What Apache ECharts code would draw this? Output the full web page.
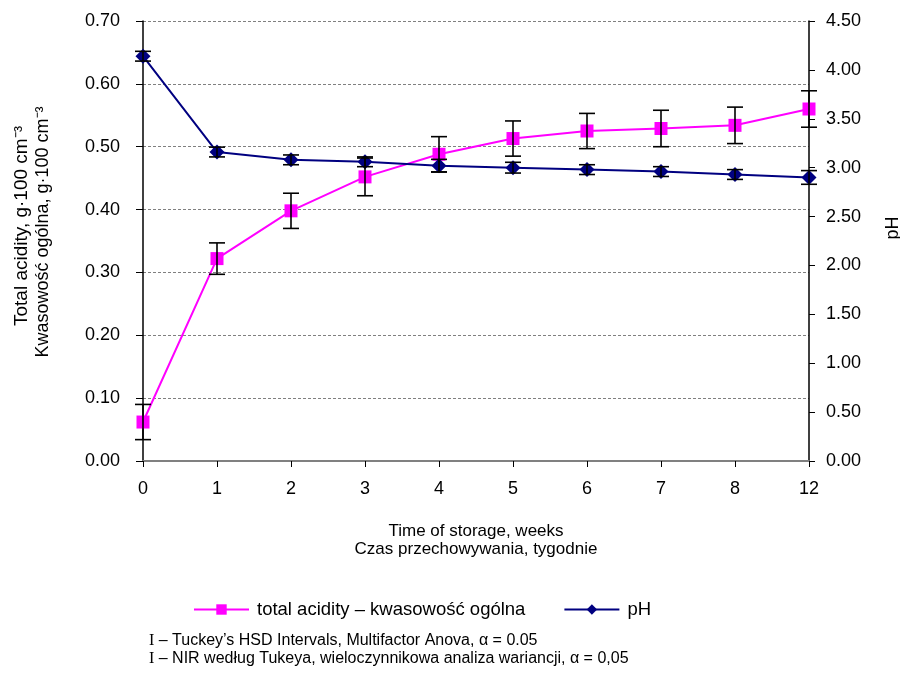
<!DOCTYPE html>
<html>
<head>
<meta charset="utf-8">
<script src="https://cdn.jsdelivr.net/npm/echarts@6/dist/echarts.min.js"></script>
<style>
  html, body { margin: 0; padding: 0; background: #fff; }
  #chart { width: 900px; height: 675px; }
</style>
</head>
<body>
<div id="chart"></div>
<script>
const weeks = ['0', '1', '2', '3', '4', '5', '6', '7', '8', '12'];
const acidity = [0.062, 0.322, 0.398, 0.452, 0.488, 0.513, 0.525, 0.529, 0.534, 0.560];
const acidityErr = [0.028, 0.025, 0.028, 0.03, 0.028, 0.028, 0.028, 0.029, 0.029, 0.029];
const ph = [4.14, 3.16, 3.08, 3.06, 3.02, 3.00, 2.98, 2.96, 2.93, 2.90];
const phErr = [0.05, 0.05, 0.05, 0.05, 0.065, 0.055, 0.05, 0.05, 0.05, 0.07];

const font = 'Liberation Sans, Arial, sans-serif';

const errData = (vals, errs) => vals.map((v, i) => [i, v - errs[i], v + errs[i]]);

const errorBars = (params, api) => {
  const lo = api.coord([api.value(0), api.value(1)]);
  const hi = api.coord([api.value(0), api.value(2)]);
  const w = 8;
  const style = { stroke: '#000', lineWidth: 1.6 };
  return {
    type: 'group',
    children: [
      { type: 'line', shape: { x1: lo[0], y1: lo[1], x2: hi[0], y2: hi[1] }, style },
      { type: 'line', shape: { x1: lo[0] - w, y1: lo[1], x2: lo[0] + w, y2: lo[1] }, style },
      { type: 'line', shape: { x1: hi[0] - w, y1: hi[1], x2: hi[0] + w, y2: hi[1] }, style },
    ],
  };
};

const footRich = {
  i: { fontFamily: 'Liberation Serif, serif', fontSize: 16, fill: '#000' },
  t: { fontFamily: font, fontSize: 16, fill: '#000' },
};

const chart = echarts.init(document.getElementById('chart'));
chart.setOption({
  animation: false,
  textStyle: { fontFamily: font },
  grid: { left: 143, right: 91, top: 21, bottom: 214 },
  legend: {
    data: ['total acidity – kwasowość ogólna', 'pH'],
    left: 188,
    top: 595,
    itemWidth: 55,
    itemHeight: 13,
    itemGap: 38,
    textStyle: { fontFamily: font, fontSize: 18.5, color: '#000', padding: [0, 0, 0, 3] },
  },
  xAxis: [
    {
      type: 'category',
      data: weeks,
      boundaryGap: false,
      axisLine: { lineStyle: { color: '#000', width: 1.5 } },
      axisTick: { alignWithLabel: true, length: 6, lineStyle: { color: '#000' } },
      axisLabel: { color: '#000', fontSize: 18, margin: 19, fontFamily: font },
    },
    {
      // plain grey frame line along the top of the plot
      type: 'category',
      data: weeks,
      position: 'top',
      boundaryGap: false,
      axisLine: { show: true, lineStyle: { color: '#808080', width: 2 } },
      axisTick: { show: false },
      axisLabel: { show: false },
    },
  ],
  yAxis: [
    {
      type: 'value',
      min: 0, max: 0.7, interval: 0.1,
      axisLine: { show: true, lineStyle: { color: '#000', width: 1.5 } },
      axisTick: { show: true, length: 7, lineStyle: { color: '#000' } },
      axisLabel: { color: '#000', fontSize: 18, margin: 23, fontFamily: font, formatter: v => v.toFixed(2) },
      splitLine: { show: true, lineStyle: { color: '#808080', type: [3, 2], width: 1 } },
    },
    {
      type: 'value',
      min: 0, max: 4.5, interval: 0.5,
      position: 'right',
      axisLine: { show: true, lineStyle: { color: '#000', width: 1.5 } },
      axisTick: { show: true, length: 6, lineStyle: { color: '#000' } },
      axisLabel: { color: '#000', fontSize: 18, margin: 17, fontFamily: font, formatter: v => v.toFixed(2) },
      splitLine: { show: false },
    },
  ],
  series: [
    {
      name: 'total acidity – kwasowość ogólna',
      type: 'line',
      yAxisIndex: 0,
      data: acidity,
      symbol: 'rect',
      symbolSize: 13,
      itemStyle: { color: '#ff00ff' },
      lineStyle: { color: '#ff00ff', width: 2 },
      z: 3,
    },
    {
      name: 'pH',
      type: 'line',
      yAxisIndex: 1,
      data: ph,
      symbol: 'diamond',
      symbolSize: 15,
      itemStyle: { color: '#000080' },
      lineStyle: { color: '#000080', width: 2 },
      z: 3,
    },
    {
      type: 'custom',
      yAxisIndex: 0,
      data: errData(acidity, acidityErr),
      renderItem: errorBars,
      z: 5,
      silent: true,
    },
    {
      type: 'custom',
      yAxisIndex: 1,
      data: errData(ph, phErr),
      renderItem: errorBars,
      z: 5,
      silent: true,
    },
  ],
  graphic: [
    {
      type: 'text', x: 22, y: 226, rotation: Math.PI / 2,
      style: { text: 'Total acidity, g·100 cm⁻³', font: '19px ' + font, fill: '#000', align: 'center', verticalAlign: 'middle' },
    },
    {
      type: 'text', x: 43, y: 232, rotation: Math.PI / 2,
      style: { text: 'Kwasowość ogólna, g·100 cm⁻³', font: '18px ' + font, fill: '#000', align: 'center', verticalAlign: 'middle' },
    },
    {
      type: 'text', x: 893, y: 228, rotation: Math.PI / 2,
      style: { text: 'pH', font: '18px ' + font, fill: '#000', align: 'center', verticalAlign: 'middle' },
    },
    {
      type: 'text', x: 476, y: 531,
      style: { text: 'Time of storage, weeks', font: '17px ' + font, fill: '#000', align: 'center', verticalAlign: 'middle' },
    },
    {
      type: 'text', x: 476, y: 549,
      style: { text: 'Czas przechowywania, tygodnie', font: '17px ' + font, fill: '#000', align: 'center', verticalAlign: 'middle' },
    },
    {
      type: 'text', x: 149, y: 641,
      style: { text: '{i|I}{t| – Tuckey’s HSD Intervals, Multifactor Anova, α = 0.05}', rich: footRich, verticalAlign: 'middle' },
    },
    {
      type: 'text', x: 149, y: 659,
      style: { text: '{i|I}{t| – NIR według Tukeya, wieloczynnikowa analiza wariancji, α = 0,05}', rich: footRich, verticalAlign: 'middle' },
    },
  ],
});
</script>
</body>
</html>
